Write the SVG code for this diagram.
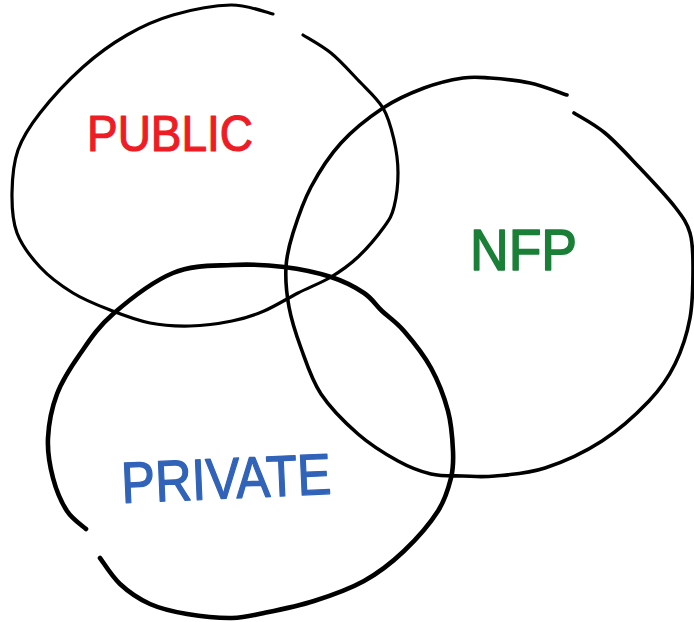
<svg xmlns="http://www.w3.org/2000/svg" width="694" height="622" viewBox="0 0 694 622">
<style>
.ring{fill:none;stroke:#000;stroke-linecap:round;stroke-linejoin:round}
.lbl{font-family:"Liberation Sans","DejaVu Sans",sans-serif;font-weight:normal;stroke-linejoin:round;stroke-linecap:round}
</style>
<rect width="694" height="622" fill="#fff"/>
<g id="public">
<path class="ring" stroke-width="3.2" d="M273,14 C266,12.5 247.7,4.8 231,5 C214.3,5.2 190.3,10 173,15 C155.7,20 142,26.3 127,35 C112,43.7 97.5,54 83,67 C68.5,80 50.8,99.2 40,113 C29.2,126.8 22.7,136.7 18,150 C13.3,163.3 12.2,179.2 12,193 C11.8,206.8 12.3,220.7 17,233 C21.7,245.3 30.7,257 40,267 C49.3,277 61.3,285.8 73,293 C84.7,300.2 97.2,305 110,310 C122.8,315 136.7,320.3 150,323 C163.3,325.7 176.3,326.3 190,326 C203.7,325.7 219.7,323.5 232,321 C244.3,318.5 253,315.7 264,311 C275,306.3 286.8,298.7 298,293 C309.2,287.3 321,283 331,277 C341,271 349.2,265.3 358,257 C366.8,248.7 378,235.3 384,227 C390,218.7 391.7,216 394,207 C396.3,198 398,184.2 398,173 C398,161.8 396.5,150.8 394,140 C391.5,129.2 389,118 383,108 C377,98 366.7,89.2 358,80 C349.3,70.8 340.2,60.5 331,53 C321.8,45.5 307.7,38 303,35"/>
<text class="lbl" x="87" y="151" font-size="50" textLength="166" lengthAdjust="spacingAndGlyphs" fill="#EE1C25" stroke="#EE1C25" stroke-width="1.2">PUBLIC</text>
</g>
<g id="nfp">
<path class="ring" stroke-width="3.6" d="M567,95 C560.8,93 542.8,85.8 530,83 C517.2,80.2 501.2,78.8 490,78 C478.8,77.2 474,76.3 463,78 C452,79.7 437.3,83 424,88 C410.7,93 396.8,98.8 383,108 C369.2,117.2 353,129.8 341,143 C329,156.2 319,172 311,187 C303,202 297.2,219.7 293,233 C288.8,246.3 286.7,254.7 286,267 C285.3,279.3 286.5,293.5 289,307 C291.5,320.5 295.7,333.5 301,348 C306.3,362.5 311.5,379.7 321,394 C330.5,408.3 345.2,422.8 358,434 C370.8,445.2 385.8,454.3 398,461 C410.2,467.7 420.2,471.5 431,474 C441.8,476.5 452.3,475.7 463,476 C473.7,476.3 481.3,477.3 495,476 C508.7,474.7 527.2,473.8 545,468 C562.8,462.2 584.7,452.2 602,441 C619.3,429.8 636.8,413.8 649,401 C661.2,388.2 668.2,377.8 675,364 C681.8,350.2 687,334.2 690,318 C693,301.8 693,281.2 693,267 C693,252.8 693,243 690,233 C687,223 683.5,218 675,207 C666.5,196 650.7,179.3 639,167 C627.3,154.7 615.8,142 605,133 C594.2,124 579.2,116.3 574,113"/>
<text class="lbl" x="470" y="270" font-size="58" textLength="107" lengthAdjust="spacingAndGlyphs" fill="#1A7F37" stroke="#1A7F37" stroke-width="1.5">NFP</text>
</g>
<g id="private">
<path class="ring" stroke-width="4.6" d="M86,529 C82.8,526 72.5,519.5 67,511 C61.5,502.5 56.2,490.2 53,478 C49.8,465.8 47.3,452 48,438 C48.7,424 51.7,408 57,394 C62.3,380 70.7,367.3 80,354 C89.3,340.7 97.5,327.5 113,314 C128.5,300.5 153.2,281.2 173,273 C192.8,264.8 213.5,266 232,265 C250.5,264 267.5,265 284,267 C300.5,269 317.7,272.7 331,277 C344.3,281.3 355.5,287.3 364,293 C372.5,298.7 375.3,304.7 382,311 C388.7,317.3 395.8,321.5 404,331 C412.2,340.5 423.7,354.7 431,368 C438.3,381.3 444.3,397.2 448,411 C451.7,424.8 452.5,439.8 453,451 C453.5,462.2 453.5,468 451,478 C448.5,488 445.8,498.8 438,511 C430.2,523.2 416.3,539.3 404,551 C391.7,562.7 379,572.7 364,581 C349,589.3 330.7,595.7 314,601 C297.3,606.3 277.7,610.2 264,613 C250.3,615.8 244.8,617.8 232,618 C219.2,618.2 200.7,616.3 187,614 C173.3,611.7 161.2,609 150,604 C138.8,599 128.3,591.7 120,584 C111.7,576.3 103.3,562.3 100,558"/>
<text class="lbl" x="122" y="503" font-size="58" textLength="210" lengthAdjust="spacingAndGlyphs" fill="#3163B8" stroke="#3163B8" stroke-width="1.3" transform="rotate(-2.5 122 503)">PRIVATE</text>
</g>
<g id="connectors"/>
</svg>
